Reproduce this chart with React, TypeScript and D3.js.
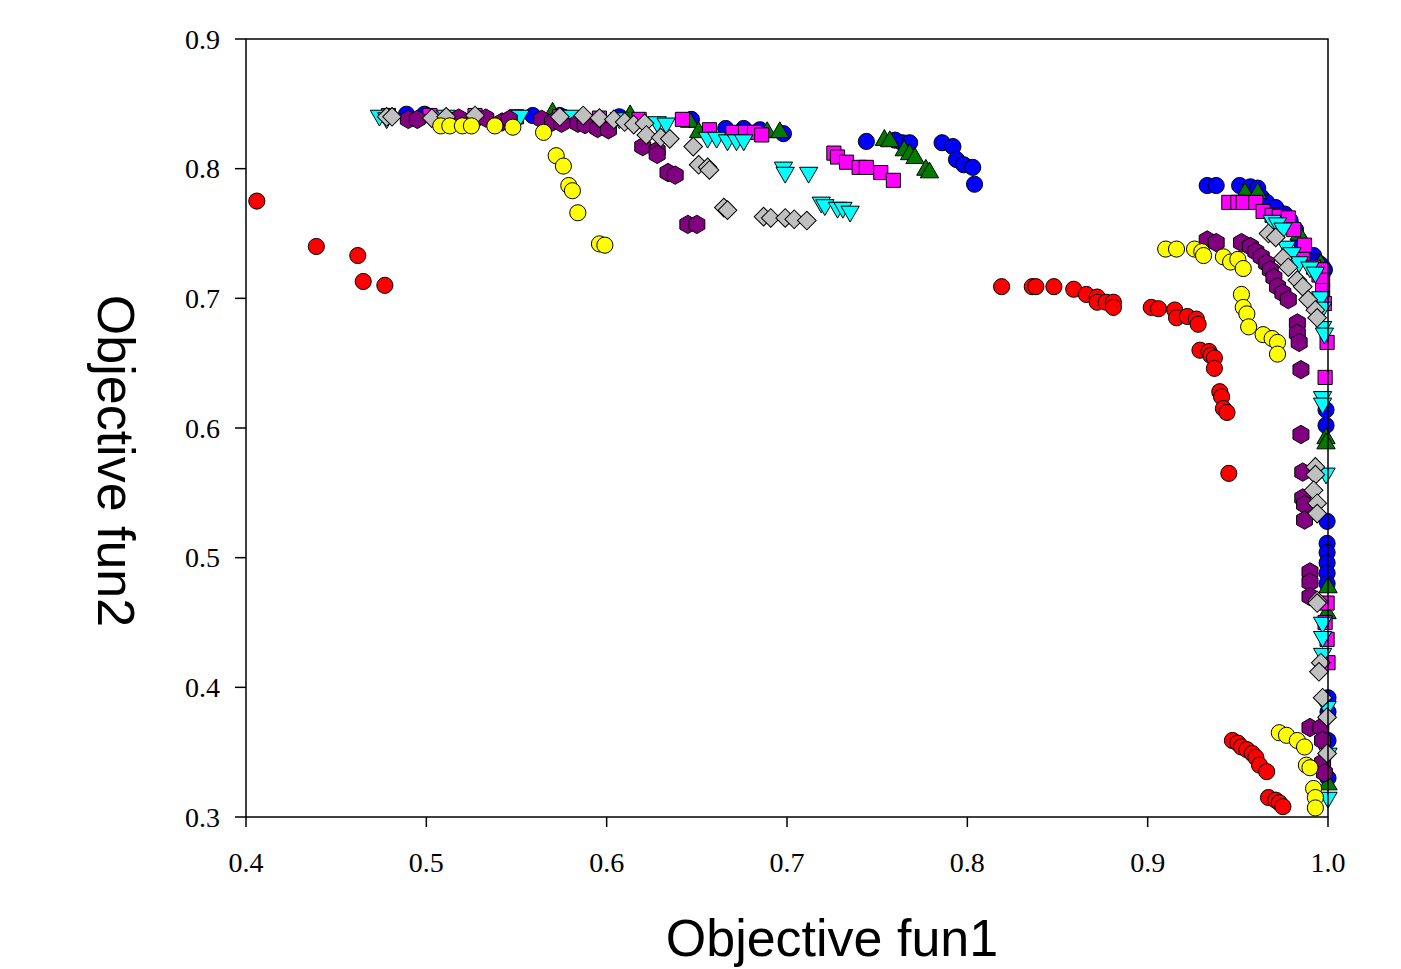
import React from 'react';
import * as d3 from 'd3';

type Pt = [number, number];

// series, [fun1, fun2]
const redPts: Pt[] = [
  [0.406, 0.775], [0.439, 0.740], [0.462, 0.733], [0.465, 0.713], [0.477, 0.710],
  [0.819, 0.709], [0.836, 0.709], [0.838, 0.709], [0.848, 0.709], [0.859, 0.707],
  [0.866, 0.703], [0.872, 0.701], [0.872, 0.697], [0.877, 0.697], [0.881, 0.697],
  [0.881, 0.693], [0.902, 0.693], [0.906, 0.692], [0.915, 0.691], [0.916, 0.685],
  [0.922, 0.686], [0.927, 0.684], [0.928, 0.680], [0.929, 0.660], [0.934, 0.659],
  [0.935, 0.656], [0.937, 0.654], [0.937, 0.646], [0.940, 0.628], [0.941, 0.624],
  [0.942, 0.615], [0.944, 0.612], [0.945, 0.565], [0.947, 0.359], [0.950, 0.357],
  [0.952, 0.354], [0.955, 0.352], [0.958, 0.349], [0.960, 0.346], [0.962, 0.340],
  [0.966, 0.335], [0.967, 0.315], [0.971, 0.313], [0.973, 0.311], [0.975, 0.308],
];

const yellowPts: Pt[] = [
  [0.508, 0.833], [0.513, 0.833], [0.520, 0.833], [0.525, 0.833], [0.538, 0.833],
  [0.548, 0.832], [0.565, 0.828], [0.572, 0.810], [0.576, 0.802], [0.579, 0.787],
  [0.581, 0.783], [0.584, 0.766], [0.596, 0.742], [0.599, 0.741],
  [0.910, 0.738], [0.916, 0.738], [0.926, 0.738], [0.930, 0.736], [0.931, 0.733],
  [0.942, 0.732], [0.946, 0.728], [0.950, 0.730], [0.953, 0.723], [0.952, 0.703],
  [0.953, 0.693], [0.955, 0.688], [0.956, 0.678], [0.964, 0.672], [0.969, 0.669],
  [0.972, 0.666], [0.972, 0.657], [0.973, 0.365], [0.977, 0.363], [0.983, 0.359],
  [0.987, 0.354], [0.988, 0.340], [0.990, 0.338], [0.992, 0.322], [0.993, 0.315],
  [0.993, 0.307],
];

const bluePts: Pt[] = [
  [0.489, 0.842], [0.499, 0.842], [0.559, 0.841], [0.574, 0.841], [0.607, 0.840],
  [0.647, 0.838], [0.666, 0.831], [0.676, 0.831], [0.685, 0.830], [0.698, 0.827],
  [0.744, 0.821], [0.760, 0.822], [0.764, 0.820], [0.768, 0.820], [0.786, 0.820],
  [0.792, 0.817], [0.794, 0.807], [0.798, 0.803], [0.803, 0.801], [0.804, 0.788],
  [0.933, 0.787], [0.938, 0.787], [0.951, 0.787], [0.957, 0.786], [0.961, 0.785],
  [0.963, 0.778], [0.966, 0.774], [0.971, 0.770], [0.976, 0.765], [0.979, 0.760],
  [0.982, 0.753], [0.984, 0.745], [0.989, 0.732], [0.992, 0.733], [0.994, 0.728],
  [0.996, 0.726], [0.998, 0.722], [0.9989, 0.614], [0.9989, 0.602], [0.9995, 0.528],
  [0.9995, 0.511], [0.9995, 0.504], [0.9995, 0.496], [0.9995, 0.488], [0.9995, 0.480],
  [1.0, 0.392], [1.0, 0.381], [1.0, 0.359], [1.0, 0.330],
];

const greenPts: Pt[] = [
  [0.570, 0.843], [0.613, 0.841], [0.646, 0.836], [0.651, 0.828], [0.689, 0.828],
  [0.696, 0.828], [0.754, 0.822], [0.757, 0.821], [0.765, 0.814], [0.768, 0.811],
  [0.771, 0.808], [0.777, 0.799], [0.779, 0.797], [0.954, 0.781], [0.961, 0.781],
  [0.984, 0.749], [0.996, 0.726], [0.9989, 0.592], [0.9989, 0.588], [1.0, 0.477],
  [0.9995, 0.457], [1.0, 0.325],
];

const magentaPts: Pt[] = [
  [0.479, 0.841], [0.502, 0.841], [0.527, 0.841], [0.550, 0.840], [0.574, 0.840],
  [0.596, 0.839], [0.618, 0.838], [0.642, 0.838], [0.657, 0.830], [0.670, 0.828],
  [0.677, 0.828], [0.682, 0.828], [0.686, 0.826], [0.726, 0.812], [0.728, 0.809],
  [0.733, 0.805], [0.740, 0.801], [0.744, 0.801], [0.752, 0.797], [0.759, 0.791],
  [0.945, 0.774], [0.950, 0.774], [0.953, 0.774], [0.960, 0.774], [0.964, 0.767],
  [0.969, 0.764], [0.973, 0.763], [0.978, 0.762], [0.981, 0.753], [0.983, 0.730],
  [0.986, 0.730], [0.987, 0.741], [0.992, 0.724], [0.995, 0.718], [0.997, 0.722],
  [0.997, 0.714], [0.997, 0.706], [0.998, 0.696], [0.9995, 0.666], [0.9984, 0.639],
  [0.9995, 0.465], [0.9984, 0.450], [0.9995, 0.437], [1.0, 0.419],
];

const cyanPts: Pt[] = [
  [0.474, 0.841], [0.478, 0.839], [0.511, 0.841], [0.552, 0.841], [0.580, 0.841],
  [0.607, 0.839], [0.628, 0.836], [0.633, 0.835], [0.656, 0.824], [0.661, 0.824],
  [0.667, 0.822], [0.672, 0.822], [0.676, 0.822], [0.698, 0.801], [0.699, 0.797],
  [0.712, 0.797], [0.719, 0.774], [0.721, 0.772], [0.728, 0.770], [0.731, 0.770],
  [0.735, 0.767], [0.969, 0.760], [0.972, 0.758], [0.975, 0.754], [0.977, 0.740],
  [0.980, 0.735], [0.984, 0.728], [0.990, 0.724], [0.993, 0.720], [0.996, 0.701],
  [0.997, 0.693], [0.997, 0.678], [0.998, 0.673], [0.997, 0.624], [0.997, 0.619],
  [0.9989, 0.565], [0.997, 0.450], [0.997, 0.439], [0.997, 0.426], [0.9995, 0.385],
  [1.0, 0.349], [1.0, 0.315],
];

const grayPts: Pt[] = [
  [0.478, 0.840], [0.481, 0.840], [0.503, 0.839], [0.511, 0.840], [0.527, 0.841],
  [0.574, 0.840], [0.587, 0.841], [0.596, 0.839], [0.604, 0.838], [0.610, 0.836],
  [0.615, 0.834], [0.621, 0.835], [0.622, 0.826], [0.630, 0.824], [0.635, 0.823],
  [0.648, 0.817], [0.651, 0.803], [0.656, 0.801], [0.657, 0.799], [0.665, 0.770],
  [0.667, 0.768], [0.687, 0.763], [0.691, 0.762], [0.699, 0.762], [0.704, 0.761],
  [0.711, 0.760], [0.967, 0.750], [0.971, 0.747], [0.975, 0.731], [0.978, 0.724],
  [0.983, 0.714], [0.986, 0.709], [0.989, 0.699], [0.993, 0.691], [0.994, 0.685],
  [0.993, 0.570], [0.993, 0.564], [0.992, 0.552], [0.994, 0.542], [0.994, 0.534],
  [0.994, 0.467], [0.994, 0.465], [0.996, 0.419], [0.995, 0.412], [0.997, 0.392],
  [0.9995, 0.377], [0.9995, 0.349],
];

const purplePts: Pt[] = [
  [0.490, 0.838], [0.495, 0.838], [0.518, 0.839], [0.528, 0.839], [0.533, 0.839],
  [0.542, 0.836], [0.546, 0.838], [0.564, 0.838], [0.570, 0.836], [0.575, 0.835],
  [0.584, 0.835], [0.588, 0.834], [0.595, 0.831], [0.601, 0.830], [0.620, 0.817],
  [0.628, 0.814], [0.628, 0.811], [0.634, 0.797], [0.638, 0.795], [0.645, 0.757],
  [0.650, 0.757], [0.933, 0.745], [0.938, 0.743], [0.952, 0.743], [0.957, 0.740],
  [0.960, 0.736], [0.963, 0.732], [0.966, 0.727], [0.968, 0.722], [0.970, 0.716],
  [0.972, 0.709], [0.975, 0.704], [0.978, 0.699], [0.983, 0.681], [0.983, 0.673],
  [0.984, 0.666], [0.985, 0.645], [0.985, 0.595], [0.986, 0.566], [0.986, 0.546],
  [0.987, 0.541], [0.987, 0.529], [0.990, 0.489], [0.990, 0.481], [0.990, 0.470],
  [0.990, 0.369], [0.996, 0.369], [0.997, 0.359], [0.997, 0.342], [0.998, 0.334],
];

const xTicks = [0.4, 0.5, 0.6, 0.7, 0.8, 0.9, 1.0];
const yTicks = [0.3, 0.4, 0.5, 0.6, 0.7, 0.8, 0.9];

// drawing order (back to front)
const series = [
  { name: 'blue', pts: bluePts, fill: '#0000FF', shape: 'circle' },
  { name: 'green', pts: greenPts, fill: '#007A00', shape: 'triUp' },
  { name: 'magenta', pts: magentaPts, fill: '#FF00FF', shape: 'square' },
  { name: 'cyan', pts: cyanPts, fill: '#00FFFF', shape: 'triDown' },
  { name: 'purple', pts: purplePts, fill: '#800080', shape: 'hexagon' },
  { name: 'gray', pts: grayPts, fill: '#C0C0C0', shape: 'diamond' },
  { name: 'yellow', pts: yellowPts, fill: '#FFFF00', shape: 'circle' },
  { name: 'red', pts: redPts, fill: '#FF0000', shape: 'circle' },
];

const W = 1401;
const H = 969;
const left = 246, right = 1328, top = 39, bottom = 817;

const hexPath = (r: number) => {
  const pts = d3.range(6).map(i => {
    const a = Math.PI / 3 * i - Math.PI / 2;
    return [r * Math.cos(a), r * Math.sin(a)];
  });
  return 'M' + pts.map(p => p.join(',')).join('L') + 'Z';
};

const shapes: Record<string, string> = {
  circle: d3.symbol(d3.symbolCircle, 205)() as string,
  square: d3.symbol(d3.symbolSquare, 200)() as string,
  triUp: d3.symbol(d3.symbolTriangle, 145)() as string,
  triDown: d3.symbol(d3.symbolTriangle, 145)() as string,
  diamond: d3.symbol(d3.symbolSquare, 175)() as string,
  hexagon: hexPath(9.2),
};

const rot: Record<string, number> = { triDown: 180, diamond: 45 };

export default function App() {
  const x = d3.scaleLinear().domain([0.4, 1.0]).range([left, right]);
  const y = d3.scaleLinear().domain([0.3, 0.9]).range([bottom, top]);

  return (
    <svg width={W} height={H} style={{ position: 'absolute', left: 0, top: 0, background: '#fff' }}>
      <rect width={W} height={H} fill="#fff" />
      {series.map(s => (
        <g key={s.name}>
          {s.pts.map((p, i) => (
            <path
              key={i}
              d={shapes[s.shape]}
              transform={`translate(${x(p[0])},${y(p[1])}) rotate(${rot[s.shape] || 0})`}
              fill={s.fill}
              stroke="#000"
              strokeWidth={1}
            />
          ))}
        </g>
      ))}
      {/* frame */}
      <rect x={left} y={top} width={right - left} height={bottom - top} fill="none" stroke="#000" strokeWidth={1.5} />
      {/* x axis */}
      {xTicks.map(t => (
        <g key={'x' + t}>
          <line x1={x(t)} x2={x(t)} y1={bottom} y2={bottom + 10} stroke="#000" strokeWidth={1.5} />
          <text x={x(t)} y={872} textAnchor="middle" fontFamily="'Liberation Serif', 'Times New Roman', serif" fontSize={28}>
            {d3.format('.1f')(t)}
          </text>
        </g>
      ))}
      {/* y axis */}
      {yTicks.map(t => (
        <g key={'y' + t}>
          <line x1={left - 11} x2={left} y1={y(t)} y2={y(t)} stroke="#000" strokeWidth={1.5} />
          <text x={220} y={y(t)} dy="0.35em" textAnchor="end" fontFamily="'Liberation Serif', 'Times New Roman', serif" fontSize={28}>
            {d3.format('.1f')(t)}
          </text>
        </g>
      ))}
      <text x={832} y={956} textAnchor="middle" fontFamily="'Liberation Sans', Arial, sans-serif" fontSize={52}>
        Objective fun1
      </text>
      <text transform="translate(98,461) rotate(90)" textAnchor="middle" fontFamily="'Liberation Sans', Arial, sans-serif" fontSize={52}>
        Objective fun2
      </text>
    </svg>
  );
}
